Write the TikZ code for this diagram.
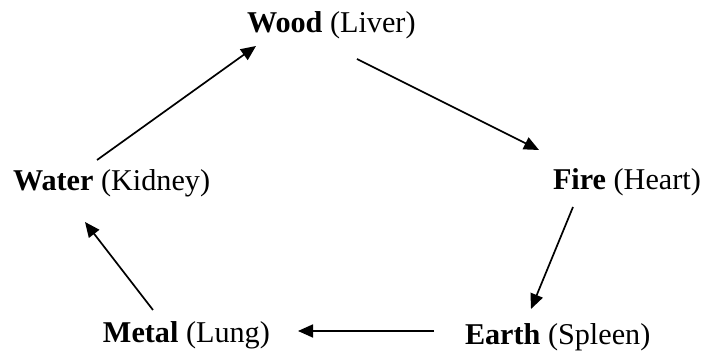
\documentclass[tikz,border=0pt]{standalone}
\usepackage{fontspec}
\setmainfont{Liberation Serif}
\usetikzlibrary{calc,arrows.meta}
\tikzset{
  elem/.style={anchor=base west,inner sep=0pt,outer sep=0pt,font=\fontsize{15.1}{18}\selectfont},
  conn/.style={line width=0.85pt,-{Triangle[length=7.5pt,width=6.5pt]}}
}
\begin{document}
\begin{tikzpicture}[x=0.5pt,y=-0.5pt]
\useasboundingbox (0,0) rectangle (703,352);
\node[elem] (wood) at (247,33) {\textbf{Wood} (Liver)};
\node[elem] (water) at (13,191) {\textbf{Water} (Kidney)};
\node[elem] (fire) at (553,190) {\textbf{Fire} (Heart)};
\node[elem] (metal) at (103,343) {\textbf{Metal} (Lung)};
\node[elem] (earth) at (465,345) {\textbf{Earth} (Spleen)};
\draw[conn] ($(water.base west)+(84,-31)$) -- ($(wood.base west)+(9,13)$);
\draw[conn] ($(wood.base west)+(110,26)$) -- ($(fire.base west)+(-14,-40)$);
\draw[conn] ($(fire.base west)+(20,17)$) -- ($(earth.base west)+(66,-36)$);
\draw[conn] ($(earth.base west)+(-31,-14)$) -- ($(metal.base west)+(195,-12)$);
\draw[conn] ($(metal.base west)+(50,-33)$) -- ($(water.base west)+(72,31)$);
\end{tikzpicture}
\end{document}
